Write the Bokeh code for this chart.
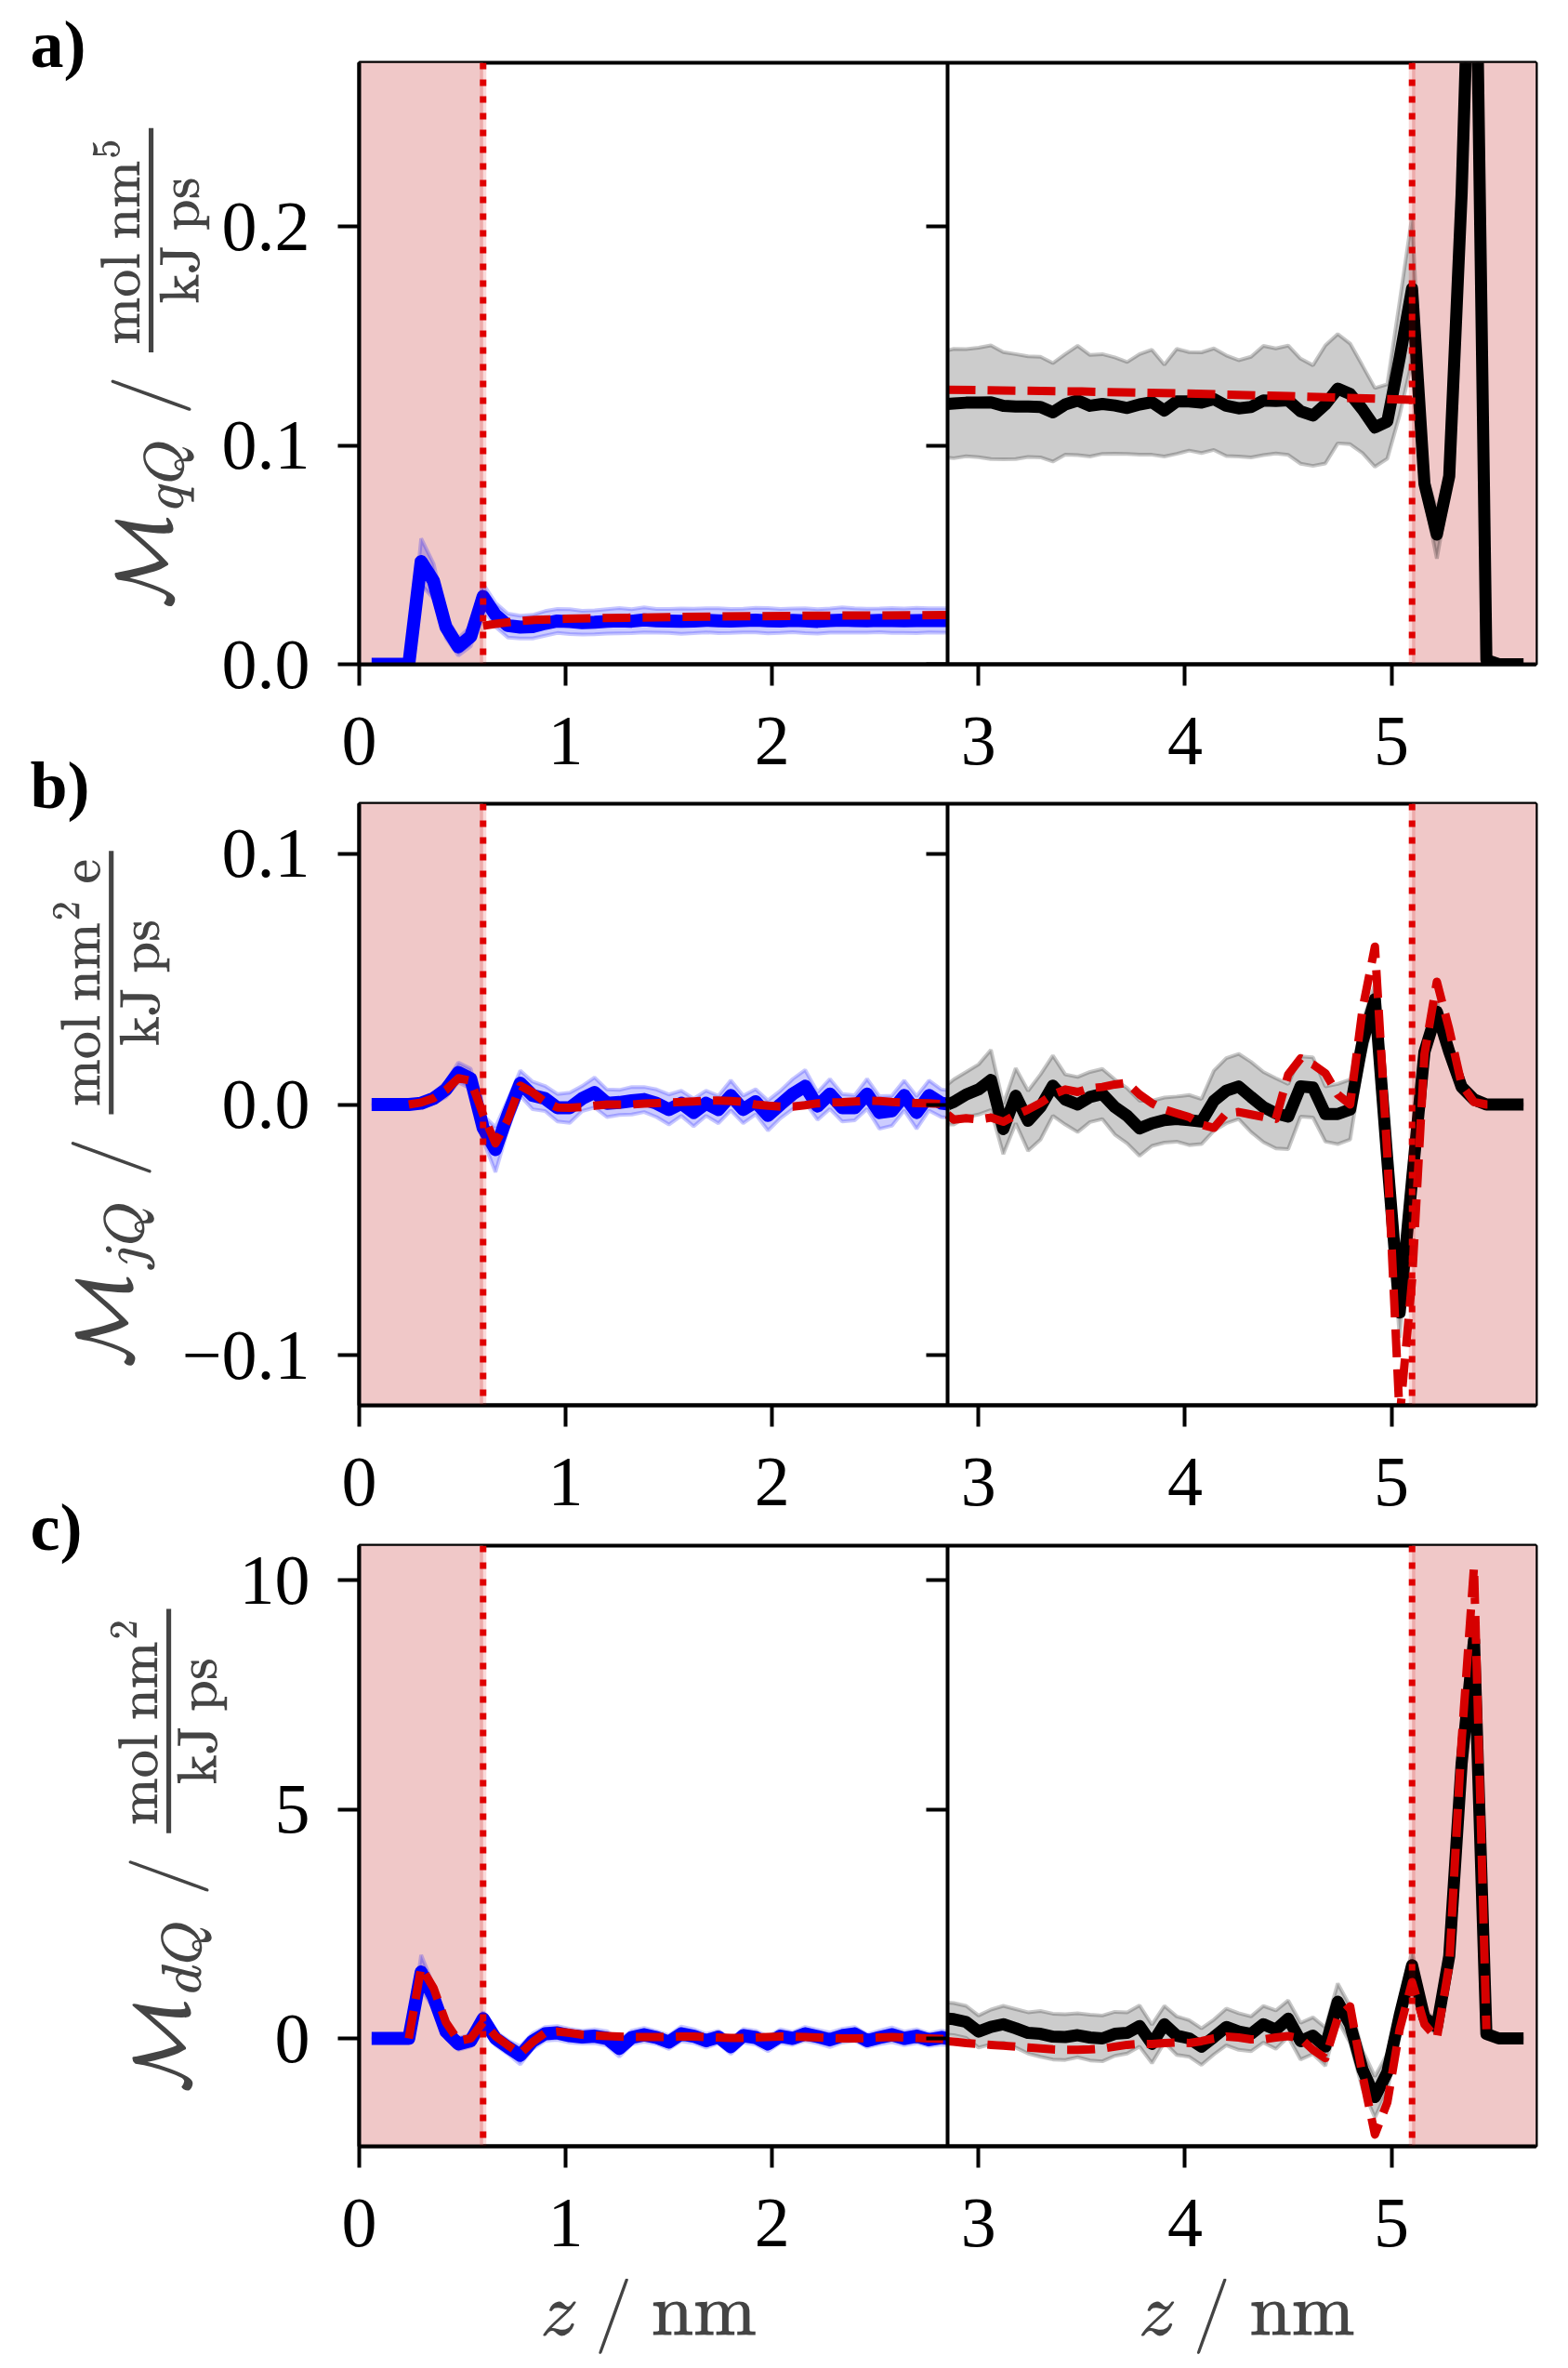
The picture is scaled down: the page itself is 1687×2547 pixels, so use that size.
import numpy as np
from bokeh.plotting import figure
from bokeh.models import Range1d, LinearAxis, FixedTicker, BoxAnnotation, Span, Title
from bokeh.layouts import column
from bokeh.embed import file_html
from bokeh.resources import INLINE

# ---------------- data ----------------
Z_LEFT = [round(0.06 * k, 2) for k in range(1, 48)] + [2.85]
Z_RIGHT = [2.85] + [round(0.06 * k, 2) for k in range(48, 95)]

X_TICKS = [0, 1, 2, 3, 4, 5]

# panel a
A_BLUE = [0, 0, 0, 0, 0.047, 0.038, 0.017, 0.008, 0.0127, 0.031, 0.0226, 0.0177, 0.017, 0.0172,
          0.0187, 0.0198, 0.0195, 0.019, 0.0192, 0.0196, 0.0199, 0.0197, 0.0203, 0.0199, 0.0198,
          0.0197, 0.0198, 0.0201, 0.0199, 0.0198, 0.0200, 0.0202, 0.0199, 0.0198, 0.0201, 0.0199,
          0.0196, 0.0200, 0.0202, 0.0200, 0.0199, 0.0201, 0.0200, 0.0199, 0.0200, 0.0201, 0.0200, 0.0200]
A_BLUE_ERR = [0.0003, 0.0003, 0.0003, 0.0008, 0.0105, 0.008, 0.005, 0.004, 0.0045, 0.0057,
              0.0055, 0.0055, 0.0052, 0.0054, 0.0056, 0.0055, 0.0057, 0.0054, 0.0055, 0.0056,
              0.0058, 0.0055, 0.0057, 0.0054, 0.0055, 0.0058, 0.0056, 0.0055, 0.0057, 0.0055,
              0.0054, 0.0056, 0.0058, 0.0055, 0.0054, 0.0057, 0.0056, 0.0055, 0.0058, 0.0056,
              0.0055, 0.0054, 0.0057, 0.0056, 0.0058, 0.0055, 0.0056, 0.0056]
A_BLACK = [0.1190, 0.1192, 0.1196, 0.1197, 0.1198, 0.1182, 0.1178, 0.1178, 0.1176, 0.1152,
           0.1188, 0.1206, 0.1182, 0.1190, 0.1183, 0.1172, 0.1188, 0.1198, 0.1160, 0.1202,
           0.1202, 0.1196, 0.1212, 0.1182, 0.1170, 0.1176, 0.1206, 0.1204, 0.1207, 0.1157,
           0.1137, 0.1188, 0.1260, 0.1236, 0.1165, 0.1083, 0.1110, 0.1400, 0.1718, 0.0825,
           0.0593, 0.0860, 0.2150, 0.4000, 0.0020, 0.0, 0.0, 0.0]
A_BLACK_ERR = [0.0245, 0.025, 0.0245, 0.025, 0.026, 0.0245, 0.024, 0.023, 0.023, 0.0225,
               0.023, 0.025, 0.0232, 0.0228, 0.022, 0.021, 0.023, 0.024, 0.021, 0.024,
               0.0225, 0.023, 0.0232, 0.023, 0.022, 0.023, 0.025, 0.024, 0.025, 0.024,
               0.023, 0.027, 0.025, 0.023, 0.020, 0.018, 0.017, 0.026, 0.033, 0.006,
               0.011, 0.006, 0.006, 0.010, 0.001, 0.0, 0.0, 0.0]
A_FIT_L_Z = [0.60, 0.66, 0.75, 0.85, 1.0, 1.3, 1.7, 2.2, 2.85]
A_FIT_L = [0.0176, 0.0185, 0.0195, 0.0203, 0.0208, 0.0213, 0.0218, 0.0222, 0.0225]
A_FIT_R_Z = [2.85, 3.5, 4.0, 4.5, 5.1]
A_FIT_R = [0.1255, 0.1247, 0.1238, 0.1226, 0.1209]

# panel b
B_BLUE = [0, 0, 0, 0, 0.0005, 0.0024, 0.006, 0.0128, 0.0103, -0.0093, -0.018, -0.004, 0.0085,
          0.0036, 0.0024, -0.0013, -0.0013, 0.0024, 0.0048, 0.0005, 0.0008, 0.0015, 0.002, 0.0005,
          -0.002, 0.0005, -0.0032, 0.0005, -0.002, 0.0036, -0.002, 0.0011, -0.0044, 0.0, 0.0042,
          0.0073, -0.0006, 0.0042, -0.0013, -0.0013, 0.0042, -0.0032, -0.0025, 0.0036, -0.0032,
          0.0036, 0.0005, 0.0002]
B_BLUE_ERR = [0.0003, 0.0003, 0.0003, 0.0005, 0.001, 0.002, 0.003, 0.004, 0.004, 0.005,
              0.009, 0.006, 0.005, 0.0055, 0.005, 0.0055, 0.006, 0.005, 0.006, 0.0055,
              0.005, 0.0055, 0.005, 0.0055, 0.006, 0.005, 0.0055, 0.005, 0.0055, 0.006,
              0.0055, 0.005, 0.006, 0.0055, 0.006, 0.0065, 0.0055, 0.006, 0.0055, 0.005,
              0.006, 0.0065, 0.006, 0.006, 0.0065, 0.006, 0.0055, 0.0055]
B_BLACK = [0.0, 0.001, 0.004, 0.006, 0.0098, -0.0098, 0.0035, -0.0065, -0.001, 0.0075,
           0.002, 0.0, 0.003, 0.0042, -0.001, -0.0045, -0.0095, -0.0075, -0.0062, -0.0058,
           -0.0062, -0.0068, 0.0015, 0.0055, 0.0072, 0.003, -0.001, -0.0035, -0.0048, 0.0072,
           0.0068, -0.0038, -0.0038, -0.002, 0.025, 0.042, -0.022, -0.083, -0.030, 0.021,
           0.037, 0.021, 0.007, 0.002, 0.0, 0.0, 0.0, 0.0]
B_BLACK_ERR = [0.008, 0.009, 0.009, 0.01, 0.012, 0.010, 0.011, 0.012, 0.013, 0.012,
               0.010, 0.011, 0.010, 0.010, 0.011, 0.011, 0.011, 0.009, 0.009, 0.009,
               0.010, 0.009, 0.012, 0.013, 0.013, 0.014, 0.014, 0.014, 0.013, 0.012,
               0.012, 0.011, 0.012, 0.012, 0.008, 0.006, 0.006, 0.010, 0.006, 0.004,
               0.004, 0.003, 0.002, 0.001, 0.0, 0.0, 0.0, 0.0]
B_FIT_L = [0.0, 0.0008, 0.0025, 0.0058, 0.0105, 0.0095, -0.004, -0.0155, -0.006, 0.0075,
           0.0048, 0.001, -0.0012, -0.0013, -0.001, -0.0005, 0.0, 0.0, 0.0, 0.0004,
           0.0006, 0.0008, 0.001, 0.0012, 0.0015, 0.0016, 0.0014, 0.001, 0.0, -0.0005,
           -0.0008, -0.0008, -0.0003, 0.0005, 0.0008, 0.0009, 0.0012, 0.0015, 0.0014, 0.001,
           0.0008, 0.0006, 0.0005, 0.0002, 0.0]
B_FIT_R = [-0.004, -0.006, -0.0055, -0.006, -0.0052, -0.0069, -0.0042, -0.002, 0.0006, 0.004,
           0.006, 0.005, 0.0065, 0.007, 0.008, 0.0086, 0.004, 0.0005, -0.002, -0.0035,
           -0.005, -0.008, -0.0093, -0.0035, -0.003, -0.004, -0.005, -0.0057, 0.012, 0.0184,
           0.016, 0.0125, 0.004, 0.0, 0.038, 0.063, -0.02, -0.125, -0.07, 0.02,
           0.049, 0.030, 0.008, 0.001, 0.0, 0.0]

# panel c
C_BLUE = [0, 0, 0, 0, 1.45, 0.9, 0.15, -0.12, -0.05, 0.43, 0.0, -0.19, -0.37, -0.06, 0.10, 0.12,
          0.06, 0.03, 0.05, 0.0, -0.22, 0.02, 0.08, 0.02, -0.08, 0.10, 0.05, -0.05, 0.03, -0.18,
          0.06, 0.02, -0.12, 0.05, 0.0, 0.1, 0.04, -0.03, 0.06, 0.10, -0.05, 0.02, 0.08, 0.0,
          0.05, -0.03, 0.02, 0.0]
C_BLUE_ERR = [0.01, 0.01, 0.01, 0.02, 0.37, 0.25, 0.15, 0.13, 0.13, 0.15,
              0.15, 0.15, 0.2, 0.17, 0.15, 0.15, 0.15, 0.14, 0.15, 0.16,
              0.18, 0.15, 0.15, 0.14, 0.15, 0.16, 0.15, 0.15, 0.14, 0.16,
              0.15, 0.15, 0.16, 0.15, 0.14, 0.15, 0.15, 0.16, 0.15, 0.15,
              0.14, 0.15, 0.16, 0.15, 0.15, 0.14, 0.15, 0.15]
C_BLACK = [0.43, 0.42, 0.36, 0.15, 0.25, 0.31, 0.22, 0.12, 0.10, 0.04,
           0.03, 0.07, 0.02, 0.0, 0.10, 0.12, 0.27, -0.12, 0.31, 0.06,
           0.0, -0.18, 0.03, 0.25, 0.15, 0.10, 0.31, 0.19, 0.43, -0.06,
           0.06, -0.18, 0.80, 0.30, -0.68, -1.28, -0.74, 0.5, 1.6, 0.45,
           0.25, 1.8, 6.0, 8.7, 0.1, 0.0, 0.0, 0.0]
C_BLACK_ERR = [0.35, 0.35, 0.35, 0.35, 0.38, 0.4, 0.42, 0.45, 0.5, 0.5,
               0.5, 0.48, 0.5, 0.5, 0.48, 0.45, 0.45, 0.42, 0.4, 0.42,
               0.4, 0.4, 0.38, 0.4, 0.4, 0.38, 0.4, 0.42, 0.4, 0.4,
               0.4, 0.42, 0.4, 0.4, 0.42, 0.45, 0.4, 0.35, 0.3, 0.15,
               0.15, 0.2, 0.25, 0.3, 0.1, 0.0, 0.0, 0.0]
C_FIT_L = [0.0, 1.55, 1.1, 0.35, -0.05, 0.0, 0.35, 0.05, -0.15, -0.33,
           -0.08, 0.12, 0.15, 0.12, 0.08, 0.06, 0.05, 0.04, 0.03, 0.03,
           0.03, 0.03, 0.04, 0.04, 0.03, 0.02, 0.01, 0.01, 0.02, 0.03,
           0.04, 0.04, 0.03, 0.02, 0.01, 0.0, 0.0, 0.01, 0.02, 0.03,
           0.02, 0.01, 0.0, -0.01, -0.02]
C_FIT_R = [-0.06, -0.07, -0.1, -0.12, -0.14, -0.16, -0.18, -0.2, -0.22, -0.24,
           -0.25, -0.25, -0.24, -0.22, -0.18, -0.14, -0.12, -0.12, -0.1, -0.09,
           -0.1, -0.06, 0.0, 0.04, 0.02, -0.02, -0.02, 0.02, 0.05, 0.0,
           -0.25, -0.43, 0.45, 0.7, -0.8, -2.1, -1.4, 0.2, 1.23, 0.31,
           0.0, 1.6, 6.5, 10.3, 0.2]

# ---------------- style ----------------
W = 1679
PINK = "#f0c8c8"
RED_FIT = "#d60000"
RED_DOT = "#e00000"
BLUE = "#0000ff"
BLACK = "#000000"
TICK_FONT = "Liberation Serif"
TICK_SIZE = "76px"


def band(p, z, y, err, color):
    y = np.array(y, float)
    e = np.array(err, float)
    p.varea(x=z, y1=y - e, y2=y + e, fill_color=color, fill_alpha=0.2)
    p.line(z, y + e, line_color=color, line_alpha=0.22, line_width=4)
    p.line(z, y - e, line_color=color, line_alpha=0.22, line_width=4)


def panel(y0, y1, yticks, ylabels, ylabel, letter, height, top, bottom, margin_top,
          blue, blue_err, black, black_err, fits):
    p = figure(width=W, height=height, x_range=Range1d(0, 5.7), y_range=Range1d(y0, y1),
               output_backend="svg", toolbar_location=None,
               min_border_left=386, min_border_right=27,
               min_border_top=top, min_border_bottom=bottom,
               margin=(margin_top, 0, 0, 0))
    p.title = Title(text=letter, align="left", offset=-354, standoff=-40,
                    vertical_align="bottom", text_font=TICK_FONT,
                    text_font_size="72px", text_font_style="bold", text_color="black")
    p.border_fill_color = None
    p.background_fill_color = "white"
    p.outline_line_color = "black"
    p.outline_line_width = 4
    p.outline_line_alpha = 1
    p.xgrid.visible = False
    p.ygrid.visible = False

    xa = p.xaxis[0]
    xa.ticker = FixedTicker(ticks=X_TICKS)
    ya = p.yaxis[0]
    ya.ticker = FixedTicker(ticks=yticks)
    ya.major_label_overrides = dict(zip(yticks, ylabels))
    ya.axis_label = ylabel
    ya.axis_label_text_font_size = "73px"
    ya.axis_label_standoff = 10
    ya.axis_label_text_font_style = "normal"
    for ax, so in ((xa, 34), (ya, 30)):
        ax.axis_line_width = 4
        ax.major_tick_line_width = 4
        ax.major_tick_out = 23
        ax.major_tick_in = 0
        ax.minor_tick_out = 0
        ax.minor_tick_in = 0
        ax.major_label_text_font = TICK_FONT
        ax.major_label_text_font_size = TICK_SIZE
        ax.major_label_text_color = "black"
        ax.major_label_standoff = so

    div = LinearAxis(fixed_location=2.85, ticker=FixedTicker(ticks=yticks),
                     major_label_text_color=None, axis_line_width=4,
                     major_tick_line_width=4, major_tick_out=23, major_tick_in=0,
                     minor_tick_out=0, minor_tick_in=0)
    p.add_layout(div, "left")

    p.add_layout(BoxAnnotation(left=0, right=0.6, fill_color=PINK, fill_alpha=1,
                               line_color=None, level="underlay"))
    p.add_layout(BoxAnnotation(left=5.1, right=5.7, fill_color=PINK, fill_alpha=1,
                               line_color=None, level="underlay"))

    band(p, Z_LEFT, blue, blue_err, BLUE)
    band(p, Z_RIGHT, black, black_err, BLACK)
    p.line(Z_LEFT, blue, line_color=BLUE, line_width=14, line_join="round")
    p.line(Z_RIGHT, black, line_color=BLACK, line_width=13, line_join="round")
    for zf, yf in fits:
        p.line(zf, yf, line_color=RED_FIT, line_width=9, line_dash="30 13", line_join="round")

    for loc in (0.6, 5.1):
        p.add_layout(Span(location=loc, dimension="height", line_color=RED_DOT,
                          line_alpha=0.15, line_width=7))
        p.add_layout(Span(location=loc, dimension="height", line_color=RED_DOT,
                          line_width=7, line_dash="7 11"))
    return p


pa = panel(0.0, 0.275, [0, 0.1, 0.2], ["0.0", "0.1", "0.2"],
           r"$$\mathcal{M}_{qQ}\ /\, {\textstyle\frac{\mathrm{mol\ nm^5}}{\mathrm{kJ\ ps}}}$$",
           "a)", 863, 66, 150, 1,
           A_BLUE, A_BLUE_ERR, A_BLACK, A_BLACK_ERR,
           [(A_FIT_L_Z, A_FIT_L), (A_FIT_R_Z, A_FIT_R)])

pb = panel(-0.12, 0.12, [-0.1, 0, 0.1], ["\u22120.1", "0.0", "0.1"],
           r"$$\mathcal{M}_{jQ}\ /\, {\textstyle\frac{\mathrm{mol\ nm^2\ e}}{\mathrm{kJ\ ps}}}$$",
           "b)", 867, 70, 150, -70,
           B_BLUE, B_BLUE_ERR, B_BLACK, B_BLACK_ERR,
           [(Z_LEFT[3:], B_FIT_L), (Z_RIGHT[:46], B_FIT_R)])

pc = panel(-2.355, 10.76, [0, 5, 10], ["0", "5", "10"],
           r"$$\mathcal{M}_{dQ}\ /\, {\textstyle\frac{\mathrm{mol\ nm^2}}{\mathrm{kJ\ ps}}}$$",
           "c)", 952, 70, 236, -69,
           C_BLUE, C_BLUE_ERR, C_BLACK, C_BLACK_ERR,
           [(Z_LEFT[3:], C_FIT_L), (Z_RIGHT[:45], C_FIT_R)])

xl = pc.xaxis[0]
xl.axis_label = r"$$z\ /\ \mathrm{nm}\hspace{5.05em}z\ /\ \mathrm{nm}$$"
xl.axis_label_text_font_size = "68px"
xl.axis_label_standoff = 32

layout = column(pa, pb, pc)
open("out.html", "w").write(file_html(layout, INLINE))
